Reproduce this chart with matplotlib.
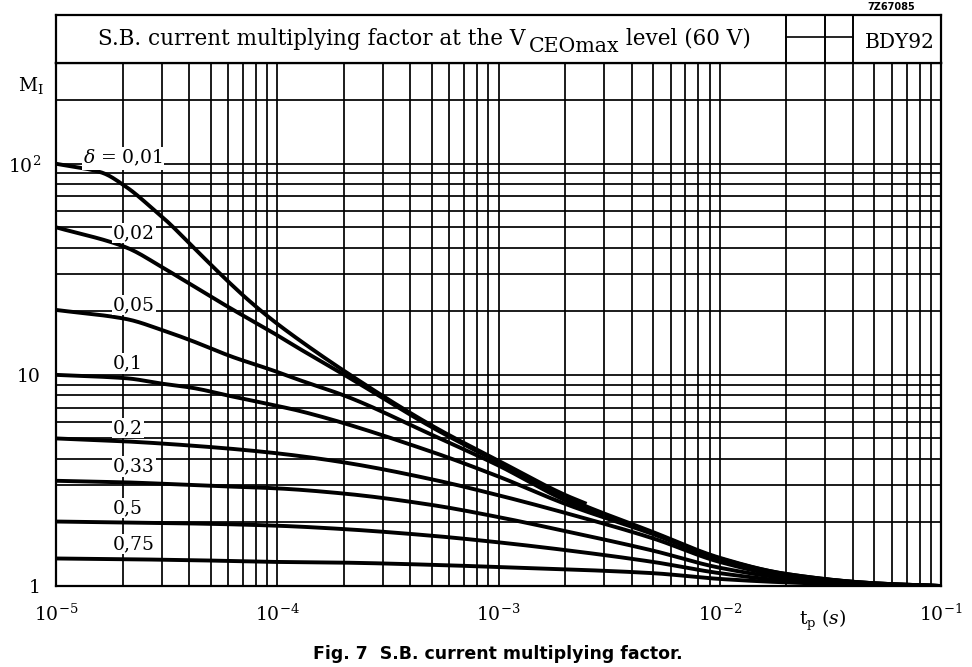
import matplotlib
matplotlib.use("Agg")
import matplotlib.pyplot as plt
from matplotlib.ticker import LogLocator, FixedLocator, NullFormatter, FixedFormatter
import numpy as np

plt.rcParams['font.family'] = ['DejaVu Serif']
plt.rcParams['mathtext.fontset'] = 'dejavuserif'

# ---- data ----
duty_labels = ["0,01", "0,02", "0,05", "0,1", "0,2", "0,33", "0,5", "0,75"]

t_001 = [1e-5, 1.6e-5, 2.1e-5, 2.7e-5, 3.2e-5, 4.1e-5, 5.2e-5, 6.2e-5, 7.3e-5, 9.5e-5, 1.26e-4, 2.06e-4, 5e-4, 1e-3, 2e-3, 2.5e-3]
m_001 = [100, 91, 77, 62, 53, 41, 32, 26.8, 22.9, 18.2, 14.6, 10.25, 5.75, 3.92, 2.7, 2.45]

t_002 = [1e-5, 2.07e-5, 3.07e-5, 4.11e-5, 6.23e-5, 9.55e-5, 1.26e-4, 2.06e-4, 5e-4, 1e-3, 2e-3, 5e-3, 1e-2, 2e-2, 5e-2, 1e-1]
m_002 = [50, 40.2, 32, 26.6, 20.5, 15.85, 13.3, 9.85, 5.65, 3.85, 2.63, 1.8, 1.36, 1.14, 1.03, 1.0]

t_005 = [1e-5, 2.07e-5, 3.07e-5, 4.11e-5, 6.23e-5, 9.55e-5, 1.26e-4, 2.06e-4, 4.9e-4, 1e-3, 2e-3, 5e-3, 1e-2, 2e-2, 5e-2, 1e-1]
m_005 = [20.3, 18.4, 16.2, 14.5, 12.2, 10.5, 9.45, 7.9, 5.25, 3.72, 2.55, 1.78, 1.35, 1.14, 1.03, 1.0]

t_01 = [1e-5, 2.07e-5, 3.07e-5, 4.11e-5, 6.23e-5, 9.55e-5, 1.26e-4, 4.9e-4, 1e-3, 2e-3, 5e-3, 1e-2, 2e-2, 5e-2, 1e-1]
m_01 = [10.0, 9.64, 9.06, 8.69, 7.91, 7.2, 6.75, 4.35, 3.3, 2.45, 1.76, 1.34, 1.13, 1.03, 1.0]

t_grid = [1e-5, 2e-5, 5e-5, 1e-4, 2e-4, 5e-4, 1e-3, 2e-3, 5e-3, 1e-2, 2e-2, 5e-2, 1e-1]
m_02 = [5.0, 4.85, 4.55, 4.25, 3.85, 3.2, 2.69, 2.22, 1.68, 1.3, 1.11, 1.02, 1.0]
m_033 = [3.15, 3.1, 2.98, 2.9, 2.74, 2.42, 2.12, 1.82, 1.47, 1.22, 1.09, 1.02, 1.0]
m_05 = [2.02, 2.0, 1.97, 1.93, 1.86, 1.73, 1.61, 1.48, 1.30, 1.15, 1.06, 1.01, 1.0]
m_075 = [1.35, 1.34, 1.32, 1.30, 1.29, 1.26, 1.23, 1.20, 1.15, 1.08, 1.04, 1.01, 1.0]

series_t = [t_001, t_002, t_005, t_01, t_grid, t_grid, t_grid, t_grid]
series_m = [m_001, m_002, m_005, m_01, m_02, m_033, m_05, m_075]

x_ticks = [1e-5, 1e-4, 1e-3, 1e-2, 1e-1]
x_ticklabels = [r"$10^{-5}$", r"$10^{-4}$", r"$10^{-3}$", r"$10^{-2}$", r"$10^{-1}$"]
y_ticks = [1, 10, 100]
y_ticklabels = ["1", "10", r"$10^2$"]

title_parts = ["S.B. current multiplying factor at the V", "CEOmax", " level (60 V)"]
type_no = "BDY92"
caption = "Fig. 7  S.B. current multiplying factor."


def smooth_loglog(t, m, n=300):
    """Monotone cubic (Fritsch-Carlson) drawing of the read points in log-log space."""
    u = np.log10(np.asarray(t, float))
    v = np.log10(np.asarray(m, float))
    h = np.diff(u)
    d = np.diff(v) / h
    k = np.zeros_like(v)
    k[0], k[-1] = d[0], d[-1]
    for i in range(1, len(v) - 1):
        if d[i - 1] * d[i] <= 0:
            k[i] = 0.0
        else:
            w1 = 2 * h[i] + h[i - 1]
            w2 = h[i] + 2 * h[i - 1]
            k[i] = (w1 + w2) / (w1 / d[i - 1] + w2 / d[i])
    uu = np.linspace(u[0], u[-1], n)
    idx = np.clip(np.searchsorted(u, uu) - 1, 0, len(h) - 1)
    s = (uu - u[idx]) / h[idx]
    h00 = 2 * s**3 - 3 * s**2 + 1
    h10 = s**3 - 2 * s**2 + s
    h01 = -2 * s**3 + 3 * s**2
    h11 = s**3 - s**2
    vv = h00 * v[idx] + h10 * h[idx] * k[idx] + h01 * v[idx + 1] + h11 * h[idx] * k[idx + 1]
    return 10**uu, 10**vv


# ---- layout ----
W, H = 972, 667
fig = plt.figure(figsize=(W / 100, H / 100), dpi=100)

def fx(px):
    return px / W

def fy(py):
    return 1 - py / H

L, R, B, T, HT = 56, 941, 586, 63, 15
ax = fig.add_axes([fx(L), fy(B), fx(R) - fx(L), fy(T) - fy(B)])
hx = fig.add_axes([fx(L), fy(T), fx(R) - fx(L), fy(HT) - fy(T)])

ax.set_xscale("log")
ax.set_yscale("log")
ax.set_xlim(1e-5, 1e-1)
ax.set_ylim(1, 300)

grid_kw = dict(color="black", linewidth=1.25)
ax.xaxis.set_major_locator(FixedLocator(x_ticks))
ax.xaxis.set_major_formatter(FixedFormatter(x_ticklabels))
ax.xaxis.set_minor_locator(LogLocator(base=10, subs=np.arange(2, 10), numticks=20))
ax.xaxis.set_minor_formatter(NullFormatter())
ax.yaxis.set_major_locator(FixedLocator(y_ticks))
ax.yaxis.set_major_formatter(FixedFormatter(y_ticklabels))
ax.yaxis.set_minor_locator(LogLocator(base=10, subs=np.arange(2, 10), numticks=20))
ax.yaxis.set_minor_formatter(NullFormatter())
ax.grid(True, which="both", **grid_kw)
ax.set_axisbelow(True)
ax.tick_params(which="both", length=0)
ax.tick_params(axis="x", pad=13, labelsize=13.5)
ax.tick_params(axis="y", pad=11, labelsize=13.5)
for s in ax.spines.values():
    s.set_linewidth(1.6)

for tt, mm in zip(series_t, series_m):
    xs, ys = smooth_loglog(tt, mm)
    ax.plot(xs, ys, color="black", linewidth=2.8, solid_capstyle="butt", zorder=2)

# curve labels
lab_x = [0.0305, 0.0644, 0.0644, 0.0644, 0.0644, 0.0644, 0.0644, 0.0644]
lab_y = [0.818, 0.675, 0.537, 0.426, 0.302, 0.229, 0.149, 0.080]
for i, (lx, ly, txt) in enumerate(zip(lab_x, lab_y, duty_labels)):
    s = (r"$\delta$ = " + txt) if i == 0 else txt
    ax.text(lx, ly, s, transform=ax.transAxes, fontsize=13.5, ha="left", va="center",
            bbox=dict(facecolor="white", edgecolor="none", pad=1.0), zorder=5)

# header
hx.set_xscale("log")
hx.set_xlim(1e-5, 1e-1)
hx.set_ylim(0, 1)
hx.set_xticks([])
hx.set_yticks([])
hx.minorticks_off()
for s in hx.spines.values():
    s.set_linewidth(1.6)
for xv in [2e-2, 3e-2, 4e-2]:
    hx.axvline(xv, color="black", linewidth=1.4)
hx.plot([2e-2, 4e-2], [0.55, 0.55], color="black", linewidth=1.2)

renderer = fig.canvas.get_renderer()
title_fs = 15.5
base_y = 45
x_cur = 98
t1 = fig.text(fx(x_cur), fy(base_y), title_parts[0], fontsize=title_fs, ha="left", va="baseline")
x_cur = t1.get_window_extent(renderer).x1 + 3
t2 = fig.text(fx(x_cur), fy(base_y + 7), title_parts[1], fontsize=title_fs * 0.95, ha="left", va="baseline")
x_cur = t2.get_window_extent(renderer).x1
fig.text(fx(x_cur), fy(base_y), title_parts[2], fontsize=title_fs, ha="left", va="baseline")

hx.text(0.954, 0.43, type_no, transform=hx.transAxes, fontsize=14.5, ha="center", va="center")

fig.text(fx(891), fy(7), "7Z67085", fontsize=7, fontweight="bold", family="DejaVu Sans",
         ha="center", va="center")
fig.text(fx(31), fy(86), r"M$_{\mathrm{I}}$", fontsize=13.5, ha="center", va="center")
fig.text(fx(823), fy(620), r"t$_{\mathrm{p}}$ ($s$)", fontsize=13.5, ha="center", va="center")
fig.text(fx(498), fy(654), caption, fontsize=12.5, fontweight="bold", family="DejaVu Sans",
         ha="center", va="center")

fig.savefig("out.png", dpi=100, facecolor="white")
